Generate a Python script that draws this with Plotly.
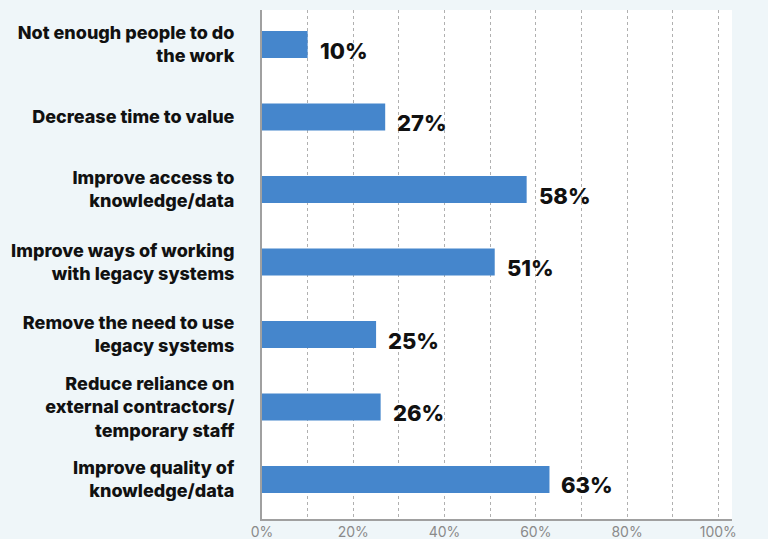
import plotly.graph_objects as go

categories = [
    "Not enough people to do<br>the work",
    "Decrease time to value",
    "Improve access to<br>knowledge/data",
    "Improve ways of working<br>with legacy systems",
    "Remove the need to use<br>legacy systems",
    "Reduce reliance on<br>external contractors/<br>temporary staff",
    "Improve quality of<br>knowledge/data",
]
values = [10, 27, 58, 51, 25, 26, 63]
value_labels = [f"{v}%" for v in values]

BAR_COLOR = "#4586cc"
BG = "#eff6f9"
FONT = "Inter"

fig = go.Figure()
fig.add_trace(go.Bar(
    x=values,
    y=categories,
    orientation="h",
    marker=dict(color=BAR_COLOR, line=dict(width=0)),
    width=0.37,
    hoverinfo="skip",
))

# value labels to the right of each bar, slightly lowered
for cat, v, lab in zip(categories, values, value_labels):
    fig.add_annotation(
        x=v, y=cat, text=lab, showarrow=False,
        xanchor="left", yanchor="middle", xshift=10, yshift=-6,
        font=dict(family=FONT, size=22, color="#111111", weight=800),
    )

fig.update_layout(
    width=768, height=539,
    margin=dict(l=262, r=36, t=10, b=20),
    paper_bgcolor=BG,
    plot_bgcolor="#ffffff",
    showlegend=False,
    xaxis=dict(
        range=[0, 103],
        tickvals=[0, 20, 40, 60, 80, 100],
        ticktext=["0%", "20%", "40%", "60%", "80%", "100%"],
        showgrid=True,
        gridcolor="#b0b0b0",
        griddash="dot",
        gridwidth=1,
        minor=dict(dtick=10, tick0=0, showgrid=True, gridcolor="#b0b0b0",
                   griddash="dot", gridwidth=1),
        showline=True, linecolor="#a0a0a0", linewidth=2,
        zeroline=False,
        automargin=False,
        tickfont=dict(family=FONT, size=14, color="#8a8a8a"),
        ticks="",
        ticklabelstandoff=-1,
        fixedrange=True,
    ),
    yaxis=dict(
        categoryorder="array",
        categoryarray=categories,
        range=[6.545, -0.476],
        showgrid=False,
        showline=True, linecolor="#a0a0a0", linewidth=2,
        ticks="",
        automargin=False,
        ticklabelstandoff=22,
        tickfont=dict(family=FONT, size=18, color="#111111", weight=800),
        fixedrange=True,
    ),
)

fig.write_html("out.html")
